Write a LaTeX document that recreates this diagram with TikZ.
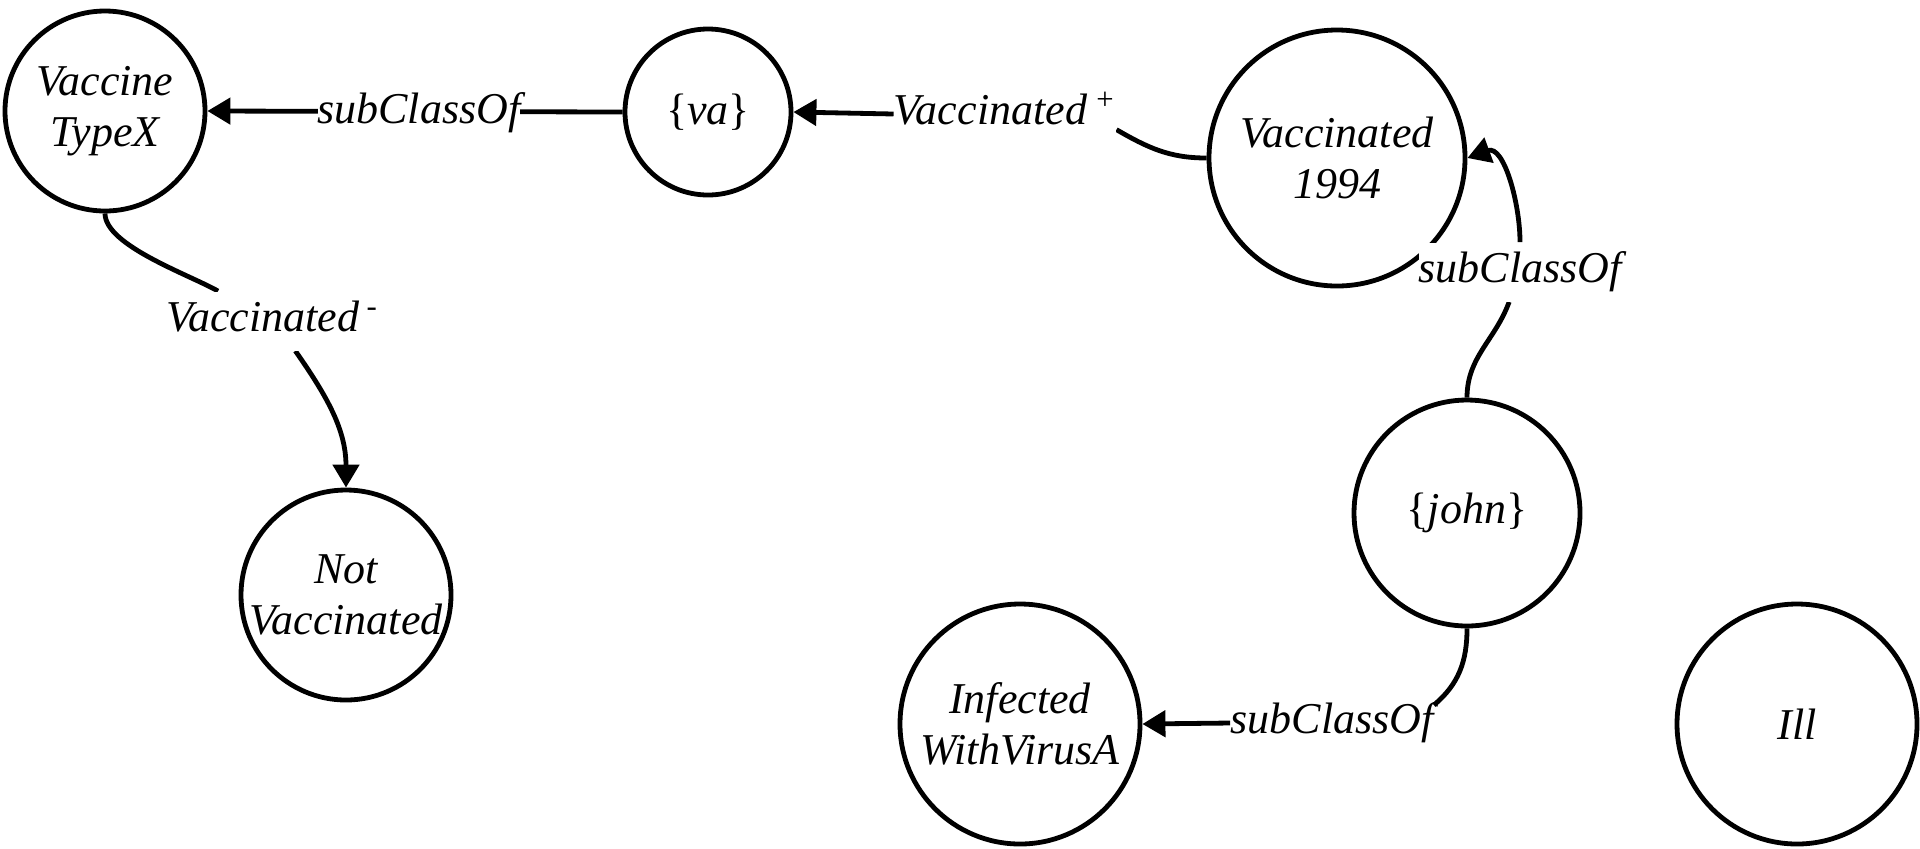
\documentclass[tikz,border=0pt]{standalone}
\usepackage{fontspec}
\setmainfont{Liberation Serif}
\usetikzlibrary{arrows.meta}
\pgfdeclarelayer{bg}
\pgfsetlayers{bg,main}

\begin{document}
\begin{tikzpicture}[x=0.5pt,y=-0.5pt,
  every node/.style={font=\fontsize{22}{25.5}\selectfont\itshape},
  concept/.style={circle, draw, line width=2.4pt, inner sep=0pt, minimum size=#1},
  rel/.style={fill=white, inner xsep=0pt, inner ysep=2pt},
  link/.style={line width=2.4pt},
  arr/.style={link, -{Triangle[length=11.5pt,width=13pt]}}]

\useasboundingbox (0,0) rectangle (1920,848);

% concepts
\node[concept=100pt, label={[align=center]center:Vaccine\\TypeX}] (vtx) at (105,111) {};
\node[concept=83pt, label={center:\textup{\{}va\textup{\}}}] (va) at (708,112) {};
\node[concept=128pt, label={[align=center]center:Vaccinated\\1994}] (v94) at (1337,158) {};
\node[concept=113pt, label={center:\textup{\{}john\textup{\}}}] (john) at (1467,513) {};
\node[concept=120pt, label={[align=center]center:Infected\\WithVirusA}] (inf) at (1020,724) {};
\node[concept=105pt, label={[align=center]center:Not\\Vaccinated}] (nv) at (346,595) {};
\node[concept=120pt, label={center:Ill}] (ill) at (1797,724) {};

% relation labels
\node[rel] (lsc1) at (419,113) {\strut subClassOf};
\node[rel] (lplus) at (1005,114) {\strut Vaccinated\,\textsuperscript{+}};
\node[rel] (lminus) at (272,321) {\strut Vaccinated\,\textsuperscript{-}};
\node[rel] (lsc2) at (1520,272) {\strut subClassOf};
\node[rel] (lsc3) at (1332,723) {\strut subClassOf};

% connectors, kept behind the labels
\begin{pgfonlayer}{bg}
\draw[arr] (va.west) -- (vtx.east);
\draw[link] (v94.west) to[out=180,in=-30] (lplus.-8);
\draw[arr] (lplus.west) -- (va.east);
\draw[link] (vtx.south) to[out=-90,in=150,looseness=0.6] (lminus.151);
\draw[arr] (lminus.-52) to[out=-55,in=90] (nv.north);
\draw[link] (john.north) to[out=90,in=-110] (lsc2.-110);
\draw[arr] (lsc2.north) to[out=90,in=20] (v94.east);
\draw[link] (john.south) to[out=-90,in=40] (lsc3.10);
\draw[arr] (lsc3.west) -- (inf.east);
\end{pgfonlayer}
\end{tikzpicture}
\end{document}
